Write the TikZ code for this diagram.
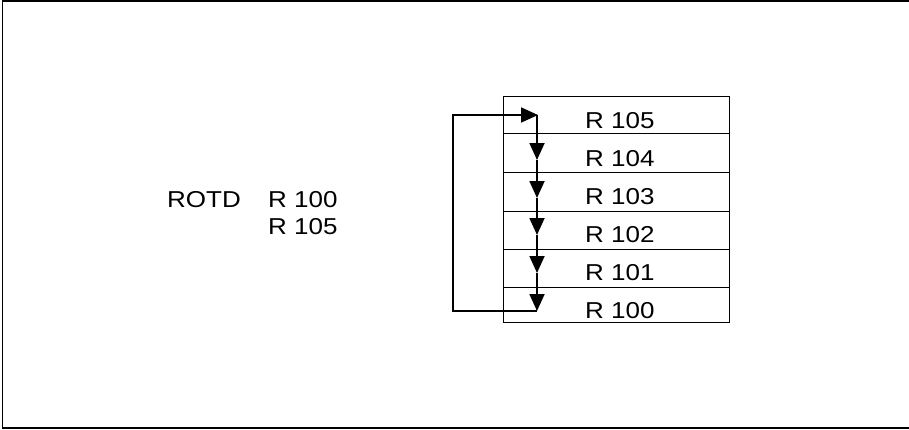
\documentclass[tikz,border=0pt]{standalone}
\usepackage{fontspec}
\setmainfont{Liberation Sans}[FakeStretch=1.13]
\usetikzlibrary{arrows.meta}
\begin{document}
\begin{tikzpicture}[x=1pt,y=-1pt,
  lbl/.style={anchor=base west,inner sep=0pt,font=\fontsize{23}{27}\selectfont},
  row/.style={draw,line width=1pt,inner sep=0pt,minimum width=226pt,anchor=north west},
  flow/.style={line width=1.8pt,-{Triangle[length=17pt,width=15pt]}},
  plain/.style={line width=1.8pt}]
\useasboundingbox (0,0) rectangle (909,429);
\draw[line width=1.5pt] (910,0.8) -- (2.5,0.8) -- (2.5,428) -- (910,428);
% rows
\node[row,minimum height=37pt] (r5) at (503,96) {};
\node[row,minimum height=39pt] (r4) at (503,133) {};
\node[row,minimum height=39pt] (r3) at (503,172) {};
\node[row,minimum height=38pt] (r2) at (503,211) {};
\node[row,minimum height=38pt] (r1) at (503,249) {};
\node[row,minimum height=35pt] (r0) at (503,287) {};
% row labels
\node[lbl] (l5) at (585,128) {R 105};
\node[lbl] (l4) at (585,166) {R 104};
\node[lbl] (l3) at (585,204) {R 103};
\node[lbl] (l2) at (585,242) {R 102};
\node[lbl] (l1) at (585,280) {R 101};
\node[lbl] (l0) at (585,318) {R 100};
% instruction
\node[lbl] (op) at (167,207) {ROTD};
\node[lbl] (a1) at (268,207) {R 100};
\node[lbl] (a2) at (268,234) {R 105};
% arrows
\coordinate (p0) at (537,115);
\coordinate (p1) at (537,160);
\coordinate (p2) at (537,198);
\coordinate (p3) at (537,235);
\coordinate (p4) at (537,273);
\coordinate (p5) at (537,311);
\coordinate (lt) at (453,115);
\coordinate (lb) at (453,311);
\draw[flow] (p0) -- (p1);
\draw[flow] (p1) -- (p2);
\draw[flow] (p2) -- (p3);
\draw[flow] (p3) -- (p4);
\draw[flow] (p4) -- (p5);
\draw[plain,line join=miter] (p5) -- (lb) -- (lt) -- ([xshift=-1pt]p0);
\draw[flow] (lt) -- ([xshift=1pt]p0);
\end{tikzpicture}
\end{document}
